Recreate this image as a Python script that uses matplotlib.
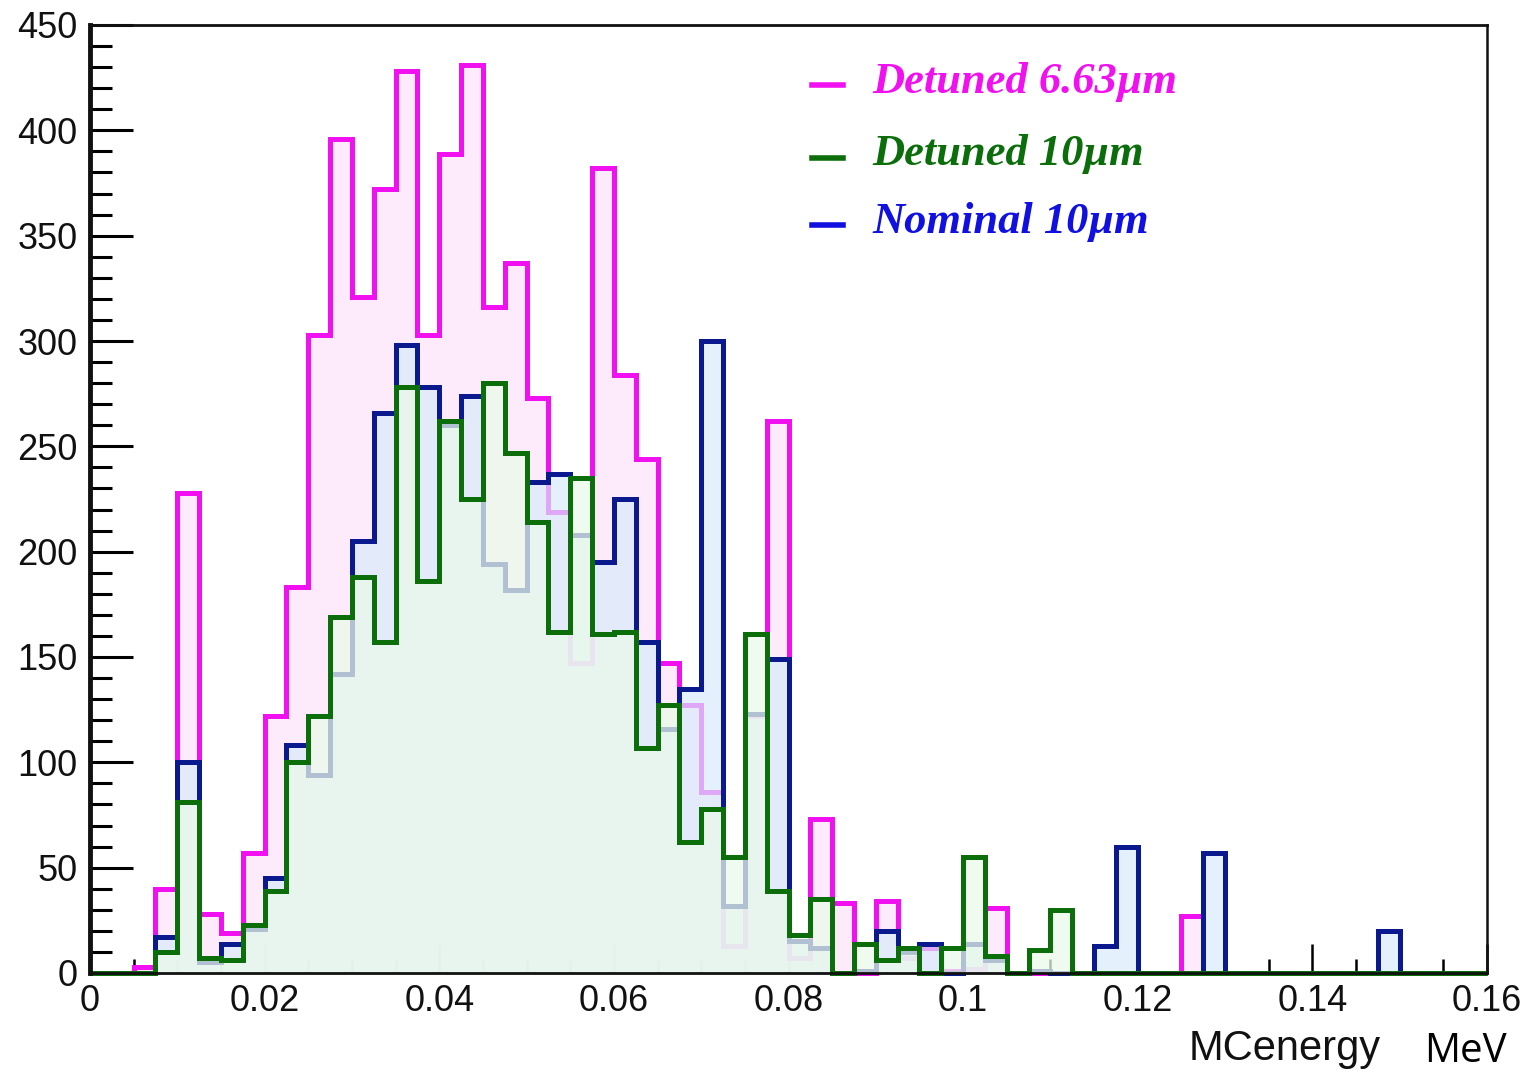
import numpy as np
import matplotlib
matplotlib.use("Agg")
import matplotlib.pyplot as plt
from matplotlib.ticker import MultipleLocator

# ---- data (counts per bin, 64 bins of 0.0025 MeV from 0 to 0.16) ----
x_min, x_max, n_bins = 0.0, 0.16, 64

detuned_663 = [0, 0, 3, 40, 228, 28, 19, 57, 122, 183,
               303, 396, 321, 372, 428, 303, 389, 431, 316, 337,
               273, 219, 147, 382, 284, 244, 147, 127, 86, 13,
               122, 262, 7, 73, 33, 0, 34, 7, 12, 1,
               2, 31, 0, 0, 0, 0, 0, 0, 0, 0,
               27, 0, 0, 0, 0, 0, 0, 0, 0, 0,
               0, 0, 0, 0]

nominal_10 = [0, 0, 0, 17, 100, 5, 14, 21, 45, 108,
              94, 142, 205, 266, 298, 278, 260, 274, 194, 182,
              233, 237, 208, 195, 225, 157, 116, 135, 300, 32,
              123, 149, 15, 12, 0, 1, 20, 10, 14, 0,
              14, 6, 0, 1, 0, 0, 13, 60, 0, 0,
              0, 57, 0, 0, 0, 0, 0, 0, 0, 20,
              0, 0, 0, 0]

detuned_10 = [0, 0, 0, 10, 81, 7, 6, 23, 39, 100,
              122, 169, 188, 157, 278, 186, 262, 225, 280, 247,
              214, 162, 235, 161, 162, 107, 127, 62, 78, 55,
              161, 39, 18, 35, 0, 14, 6, 12, 0, 12,
              55, 8, 0, 11, 30, 0, 0, 0, 0, 0,
              0, 0, 0, 0, 0, 0, 0, 0, 0, 0,
              0, 0, 0, 0]

labels = ["Detuned 6.63µm", "Detuned 10µm", "Nominal 10µm"]
x_ticks = [0, 0.02, 0.04, 0.06, 0.08, 0.1, 0.12, 0.14, 0.16]
x_tick_labels = ["0", "0.02", "0.04", "0.06", "0.08", "0.1", "0.12", "0.14", "0.16"]
y_ticks = [0, 50, 100, 150, 200, 250, 300, 350, 400, 450]

edges = np.linspace(x_min, x_max, n_bins + 1)

# ---- figure ----
W, H = 1525, 1076
fig = plt.figure(figsize=(W / 100, H / 100), dpi=100)
ax = fig.add_axes([90 / W, 1 - 973 / H, (1487 - 90) / W, (973 - 25) / H])

series = [
    (detuned_663, "#f010f0", "#fde6fb", 0.8),
    (nominal_10, "#0a1a8e", "#d9eafa", 0.7),
    (detuned_10, "#0b6e0b", "#eafaea", 0.75),
]
z = 2
for vals, lc, fc, a in series:
    ax.stairs(vals, edges, fill=True, color=fc, alpha=a, zorder=z, linewidth=0)
    ax.stairs(vals, edges, color=lc, linewidth=3.6, zorder=z + 0.5, clip_on=False)
    z += 1

ax.set_xlim(x_min, x_max)
ax.set_ylim(0, 450)

ax.set_xticks(x_ticks)
ax.set_xticklabels(x_tick_labels)
ax.xaxis.set_minor_locator(MultipleLocator(0.005))
ax.set_yticks(y_ticks)
ax.yaxis.set_minor_locator(MultipleLocator(10))

for t in ax.get_xticklabels() + ax.get_yticklabels():
    t.set_fontfamily("Liberation Sans")
    t.set_fontsize(26)
    t.set_color("#111111")

ax.tick_params(axis="y", which="major", direction="in", length=31, width=2.2,
               left=True, right=False, pad=9)
ax.tick_params(axis="y", which="minor", direction="in", length=16, width=2.2,
               left=True, right=False)
ax.tick_params(axis="x", which="major", direction="in", length=21, width=1.8,
               bottom=True, top=False, pad=8)
ax.tick_params(axis="x", which="minor", direction="in", length=10, width=1.8,
               bottom=True, top=False)

for side, lw in [("left", 3.5), ("bottom", 2.0), ("top", 2.0), ("right", 1.8)]:
    ax.spines[side].set_linewidth(lw)
    ax.spines[side].set_color("#111111")
    ax.spines[side].set_zorder(10)

# ---- legend (manual, ROOT style) ----
legend_rows = [
    (labels[0], "#f010f0", 85, 93),
    (labels[1], "#0b6e0b", 158, 165),
    (labels[2], "#1010e0", 225, 233),
]
for text, col, y_mark, y_base in legend_rows:
    fy_mark = 1 - y_mark / H
    fy_base = 1 - y_base / H
    fig.add_artist(plt.Line2D([812 / W, 843 / W], [fy_mark, fy_mark],
                              color=col, linewidth=4, transform=fig.transFigure))
    fig.text(872 / W, fy_base, text, color=col, fontsize=32,
             family="Liberation Serif", style="italic", weight="bold",
             va="baseline", ha="left")

# ---- axis title ----
fig.text(1381 / W, 1 - 1060 / H, "MCenergy", fontsize=30, family="Liberation Sans",
         color="#111111", ha="right", va="baseline")
fig.text(1424 / W, 1 - 1062 / H, "MeV", fontsize=29, family="Open Sans",
         color="black", ha="left", va="baseline")

fig.savefig("out.png", dpi=100, facecolor="white")
